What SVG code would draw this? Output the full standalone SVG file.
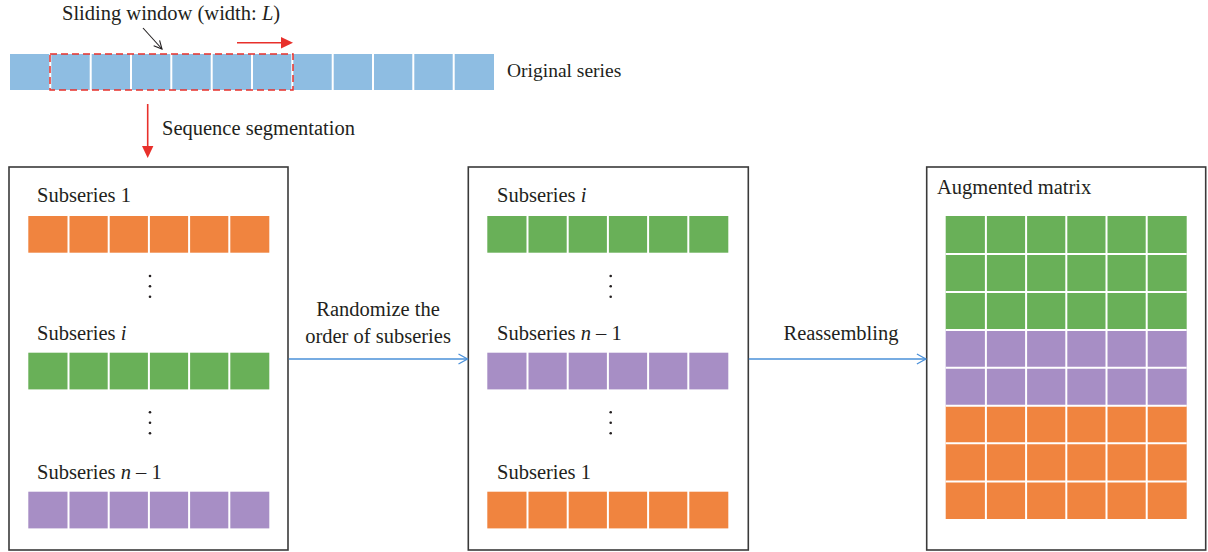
<svg xmlns="http://www.w3.org/2000/svg" width="1208" height="552" viewBox="0 0 1208 552">
<style>
text{font-family:"Liberation Serif","Times New Roman",serif;font-size:20.5px;fill:#231f20}
.box{fill:#fff;stroke:#3a3a3a;stroke-width:1.6}
.sep{stroke:#fff;stroke-width:2}
.blue{fill:#8ebde2}.org{fill:#f0843f}.grn{fill:#69b058}.pur{fill:#a78ec5}
.conn{stroke:#4a90d9;stroke-width:1.3;fill:none}
.red{stroke:#e8302b;stroke-width:1.6;fill:none}
.dot{fill:#231f20}
</style>
<defs>
<marker id="open" markerWidth="12" markerHeight="12" refX="10" refY="6" orient="auto" markerUnits="userSpaceOnUse">
<path d="M1,1 L10,6 L1,11" fill="none" stroke="#4a90d9" stroke-width="1.3"/>
</marker>
<marker id="openk" markerWidth="10" markerHeight="10" refX="9" refY="5" orient="auto" markerUnits="userSpaceOnUse">
<path d="M1,1 L9,5 L1,9" fill="none" stroke="#231f20" stroke-width="1.1"/>
</marker>
<g id="row6">
<line class="sep" x1="40.2" y1="0" x2="40.2" y2="40"/>
<line class="sep" x1="80.4" y1="0" x2="80.4" y2="40"/>
<line class="sep" x1="120.6" y1="0" x2="120.6" y2="40"/>
<line class="sep" x1="160.8" y1="0" x2="160.8" y2="40"/>
<line class="sep" x1="201" y1="0" x2="201" y2="40"/>
</g>
</defs>

<g id="original-series">
<rect class="blue" x="10" y="54" width="484" height="36"/>
<line class="sep" x1="50.3" y1="54" x2="50.3" y2="90"/>
<line class="sep" x1="90.7" y1="54" x2="90.7" y2="90"/>
<line class="sep" x1="131" y1="54" x2="131" y2="90"/>
<line class="sep" x1="171.3" y1="54" x2="171.3" y2="90"/>
<line class="sep" x1="211.7" y1="54" x2="211.7" y2="90"/>
<line class="sep" x1="252" y1="54" x2="252" y2="90"/>
<line class="sep" x1="292.3" y1="54" x2="292.3" y2="90"/>
<line class="sep" x1="332.7" y1="54" x2="332.7" y2="90"/>
<line class="sep" x1="373" y1="54" x2="373" y2="90"/>
<line class="sep" x1="413.3" y1="54" x2="413.3" y2="90"/>
<line class="sep" x1="453.7" y1="54" x2="453.7" y2="90"/>
<rect x="50" y="54" width="243" height="36" fill="none" stroke="#e8302b" stroke-width="1.5" stroke-dasharray="7,4"/>
<text x="507" y="77" style="font-size:19.5px">Original series</text>
</g>

<g id="sliding-window">
<text x="62" y="20">Sliding window (width: <tspan font-style="italic">L</tspan>)</text>
<line x1="143" y1="28" x2="162" y2="49" stroke="#231f20" stroke-width="1.1" marker-end="url(#openk)"/>
<line class="red" x1="237" y1="42.7" x2="283" y2="42.7"/>
<polygon points="281,37 293,42.7 281,48.4" fill="#e8302b"/>
</g>

<g id="segmentation">
<line class="red" x1="147.7" y1="104" x2="147.7" y2="147"/>
<polygon points="142,146 153.4,146 147.7,158" fill="#e8302b"/>
<text x="162" y="135">Sequence segmentation</text>
</g>

<g id="box-segments">
<rect class="box" x="9" y="167" width="279" height="383"/>
<text x="37" y="202">Subseries 1</text>
<rect class="org" x="28.3" y="216" width="241" height="36.7"/>
<use href="#row6" x="28.3" y="214.3"/>
<circle class="dot" cx="150" cy="276" r="1.3"/><circle class="dot" cx="150" cy="286.3" r="1.3"/><circle class="dot" cx="150" cy="296.7" r="1.3"/>
<text x="37" y="340">Subseries <tspan font-style="italic">i</tspan></text>
<rect class="grn" x="28.3" y="352.7" width="241" height="36.7"/>
<use href="#row6" x="28.3" y="351"/>
<circle class="dot" cx="150" cy="412.3" r="1.3"/><circle class="dot" cx="150" cy="422.7" r="1.3"/><circle class="dot" cx="150" cy="433.3" r="1.3"/>
<text x="37" y="479.3">Subseries <tspan font-style="italic">n</tspan> – 1</text>
<rect class="pur" x="28.3" y="491.7" width="241" height="36.7"/>
<use href="#row6" x="28.3" y="490"/>
</g>

<g id="box-shuffled">
<rect class="box" x="468.3" y="167" width="280" height="383"/>
<text x="497" y="202">Subseries <tspan font-style="italic">i</tspan></text>
<rect class="grn" x="487.3" y="216" width="241" height="36.7"/>
<use href="#row6" x="487.3" y="214.3"/>
<circle class="dot" cx="610.7" cy="276" r="1.3"/><circle class="dot" cx="610.7" cy="286.3" r="1.3"/><circle class="dot" cx="610.7" cy="296.7" r="1.3"/>
<text x="497" y="340">Subseries <tspan font-style="italic">n</tspan> – 1</text>
<rect class="pur" x="487.3" y="352.7" width="241" height="36.7"/>
<use href="#row6" x="487.3" y="351"/>
<circle class="dot" cx="610.7" cy="412.3" r="1.3"/><circle class="dot" cx="610.7" cy="422.7" r="1.3"/><circle class="dot" cx="610.7" cy="433.3" r="1.3"/>
<text x="497" y="479.3">Subseries 1</text>
<rect class="org" x="487.3" y="491.7" width="241" height="36.7"/>
<use href="#row6" x="487.3" y="490"/>
</g>

<g id="box-augmented">
<rect class="box" x="926.7" y="167" width="279" height="383"/>
<text x="937" y="194.3">Augmented matrix</text>
<rect class="grn" x="945.7" y="216" width="241" height="114"/>
<rect class="pur" x="945.7" y="330" width="241" height="75.7"/>
<rect class="org" x="945.7" y="405.7" width="241" height="113.3"/>
<g class="sep">
<line x1="985.9" y1="216" x2="985.9" y2="519"/>
<line x1="1026.1" y1="216" x2="1026.1" y2="519"/>
<line x1="1066.3" y1="216" x2="1066.3" y2="519"/>
<line x1="1106.5" y1="216" x2="1106.5" y2="519"/>
<line x1="1146.7" y1="216" x2="1146.7" y2="519"/>
<line x1="945.7" y1="254" x2="1186.7" y2="254"/>
<line x1="945.7" y1="292" x2="1186.7" y2="292"/>
<line x1="945.7" y1="330" x2="1186.7" y2="330"/>
<line x1="945.7" y1="367.7" x2="1186.7" y2="367.7"/>
<line x1="945.7" y1="405.7" x2="1186.7" y2="405.7"/>
<line x1="945.7" y1="443.3" x2="1186.7" y2="443.3"/>
<line x1="945.7" y1="481.5" x2="1186.7" y2="481.5"/>
</g>
</g>

<g id="connectors">
<line class="conn" x1="288.8" y1="359" x2="467.5" y2="359" marker-end="url(#open)"/>
<text x="378" y="316" text-anchor="middle">Randomize the</text>
<text x="378" y="343.3" text-anchor="middle">order of subseries</text>
<line class="conn" x1="748.8" y1="359" x2="925.9" y2="359" marker-end="url(#open)"/>
<text x="841" y="340" text-anchor="middle">Reassembling</text>
</g>
</svg>
